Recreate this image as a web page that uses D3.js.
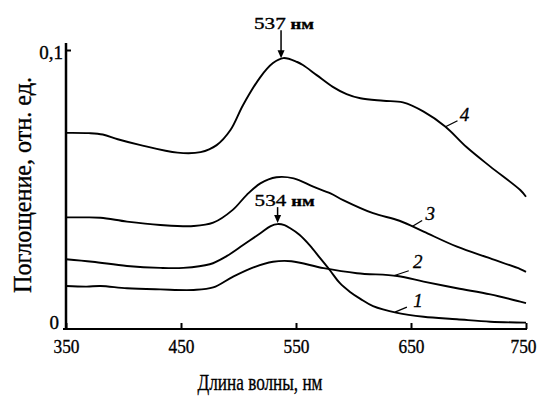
<!DOCTYPE html>
<html>
<head>
<meta charset="utf-8">
<script src="https://cdn.jsdelivr.net/npm/d3@7"></script>
<style>
  html, body { margin: 0; padding: 0; background: #fff; }
  svg { display: block; }
  svg text { font-family: "Liberation Serif", "DejaVu Serif", serif; fill: #000; stroke: #000; stroke-width: 0.35px; }
</style>
</head>
<body>
<div id="chart"></div>
<script>
// absorption spectra, wavelength (nm) vs absorbance (rel. units)
const xTicks = [350, 450, 550, 650, 750];
const yTicks = [0, 0.1];

const curve1 = [
  [350, 0.0250], [373, 0.0241], [403, 0.0226], [432, 0.0219], [452, 0.0219],
  [475, 0.0232], [490, 0.0262], [504, 0.0301], [519, 0.0343], [528, 0.0369],
  [534, 0.0376], [540, 0.0372], [545, 0.0361], [553, 0.0338], [562, 0.0300],
  [571, 0.0254], [580, 0.0208], [588, 0.0165], [597, 0.0133], [606, 0.0108],
  [617, 0.0082], [638, 0.0058], [661, 0.0044], [690, 0.0035], [719, 0.0026],
  [750, 0.0023]
];
const curve2 = [
  [350, 0.0154], [368, 0.0152], [380, 0.0154], [403, 0.0146], [432, 0.0142],
  [461, 0.0140], [478, 0.0149], [495, 0.0187], [513, 0.0221], [530, 0.0241],
  [546, 0.0243], [574, 0.0218], [603, 0.0200], [638, 0.0190], [661, 0.0170],
  [690, 0.0146], [719, 0.0124], [745, 0.0098], [750, 0.0093]
];
const curve3 = [
  [350, 0.0400], [362, 0.0400], [380, 0.0399], [403, 0.0385], [432, 0.0373],
  [461, 0.0369], [478, 0.0381], [495, 0.0427], [507, 0.0480], [519, 0.0522],
  [533, 0.0544], [548, 0.0540], [565, 0.0510], [580, 0.0486], [591, 0.0462],
  [617, 0.0415], [640, 0.0388], [661, 0.0349], [690, 0.0295], [719, 0.0253],
  [745, 0.0215], [750, 0.0205]
];
const curve4 = [
  [350, 0.0703], [370, 0.0702], [382, 0.0697], [395, 0.0680], [414, 0.0660],
  [447, 0.0632], [467, 0.0634], [481, 0.0659], [493, 0.0713], [504, 0.0803],
  [519, 0.0903], [530, 0.0953], [539, 0.0971], [551, 0.0957], [556, 0.0946],
  [568, 0.0910], [582, 0.0868], [594, 0.0842], [606, 0.0827], [626, 0.0818],
  [643, 0.0812], [661, 0.0779], [680, 0.0725], [698, 0.0653], [719, 0.0582],
  [745, 0.0498], [750, 0.0474]
];

const curveNames = ["1", "2", "3", "4"];
const labelAt = [636, 635, 651, 680];      // wavelength where each leader touches its curve
const peakNm = [534, 537];                 // arrowed maxima
const peakOf = [curve1, curve4];

const w = 541, h = 396;
const margin = {top: 50, right: 15, bottom: 67, left: 66};

const svg = d3.select("#chart").append("svg")
  .attr("width", w)
  .attr("height", h);

svg.append("rect").attr("width", w).attr("height", h).attr("fill", "#fff");

const x = d3.scaleLinear().domain([350, 750]).range([margin.left, w - margin.right]);
const y = d3.scaleLinear().domain([0, 0.1]).range([h - margin.bottom, margin.top]);

const ruFormat = d3.formatLocale({decimal: ",", thousands: " ", grouping: [3], currency: ["", ""]}).format(".1~f");

// x axis
const xAxis = svg.append("g")
  .attr("transform", "translate(0," + y(0) + ")")
  .call(d3.axisBottom(x).tickValues(xTicks).tickSizeInner(-6).tickSizeOuter(0).tickFormat(d3.format("d")));
xAxis.attr("font-family", null).attr("font-size", null);
xAxis.select(".domain").attr("stroke", "#000").attr("stroke-width", 2).attr("d", "M" + (x(350) - 3) + ",0H" + (x(750) + 1));
xAxis.selectAll(".tick line").attr("stroke", "#000").attr("stroke-width", 2);
xAxis.selectAll(".tick text")
  .attr("x", d => d === 750 ? -3 : 0)
  .attr("y", 24).attr("dy", null)
  .attr("textLength", 26)
  .attr("lengthAdjust", "spacingAndGlyphs")
  .attr("font-size", 19);

// y axis
const yAxis = svg.append("g")
  .attr("transform", "translate(" + x(350) + ",0)")
  .call(d3.axisLeft(y).tickValues(yTicks).tickSizeInner(-5).tickSizeOuter(0).tickFormat(ruFormat));
yAxis.attr("font-family", null).attr("font-size", null);
yAxis.select(".domain").attr("stroke", "#000").attr("stroke-width", 2.5).attr("d", "M0," + (y(0) + 1) + "V" + (y(0.1) - 7));
yAxis.selectAll(".tick line").attr("stroke", "#000").attr("stroke-width", 2);
yAxis.selectAll(".tick text")
  .attr("x", d => d === 0 ? -7 : -3)
  .attr("y", d => d === 0 ? -1 : 8)
  .attr("dy", null)
  .attr("font-size", 19);
yAxis.selectAll(".tick").filter(d => d === 0).select("line").remove();

// titles
svg.append("text")
  .attr("x", 260)
  .attr("y", 390)
  .attr("text-anchor", "middle")
  .attr("textLength", 125)
  .attr("lengthAdjust", "spacingAndGlyphs")
  .attr("font-size", 23)
  .text("Длина волны, нм");

svg.append("text")
  .attr("transform", "translate(31,185) rotate(-90)")
  .attr("text-anchor", "middle")
  .attr("textLength", 216)
  .attr("lengthAdjust", "spacingAndGlyphs")
  .attr("font-size", 25)
  .text("Поглощение, отн. ед.");

// curves
const line = d3.line()
  .x(d => x(d[0]))
  .y(d => y(d[1]))
  .curve(d3.curveCatmullRom.alpha(0.5));

const curves = [curve1, curve2, curve3, curve4];
svg.selectAll(".spectrum")
  .data(curves)
  .enter().append("path")
  .attr("class", "spectrum")
  .attr("fill", "none")
  .attr("stroke", "#000")
  .attr("stroke-width", 1.9)
  .attr("stroke-linejoin", "round")
  .attr("d", line);

// value of a curve at a wavelength (linear between read points)
function valueAt(curve, nm) {
  const i = d3.bisector(d => d[0]).left(curve, nm);
  if (i <= 0) return curve[0][1];
  const a = curve[i - 1], b = curve[i];
  return a[1] + (b[1] - a[1]) * (nm - a[0]) / (b[0] - a[0]);
}

// numbered leaders
const leadDx = [12, 15, 10, 12], leadDy = [-5, -5, -6, -6];
const textDx = [23, 24, 18, 19], textDy = [-5, -8, -6, -6];
curves.forEach((c, i) => {
  const px = x(labelAt[i]), py = y(valueAt(c, labelAt[i]));
  svg.append("line")
    .attr("x1", px).attr("y1", py)
    .attr("x2", px + leadDx[i]).attr("y2", py + leadDy[i])
    .attr("stroke", "#000").attr("stroke-width", 1.3);
  svg.append("text")
    .attr("x", px + textDx[i])
    .attr("y", py + textDy[i])
    .attr("text-anchor", "middle")
    .attr("font-size", 19)
    .attr("font-style", "italic")
    .text(curveNames[i]);
});

// peak arrows
const arrowLen = [16, 28];
const textLeft = [23, 27];
peakNm.forEach((nm, i) => {
  const px = x(nm), tip = y(valueAt(peakOf[i], nm)) - 1;
  const top = tip - arrowLen[i];
  svg.append("line")
    .attr("x1", px).attr("y1", top)
    .attr("x2", px).attr("y2", tip - 6)
    .attr("stroke", "#000").attr("stroke-width", 1.5);
  svg.append("path")
    .attr("d", "M" + (px - 3.5) + "," + (tip - 8) + "L" + (px + 3.5) + "," + (tip - 8) + "L" + px + "," + tip + "Z")
    .attr("fill", "#000");
  const t = svg.append("text")
    .attr("x", px - textLeft[i])
    .attr("y", top - 1)
    .attr("textLength", 60)
    .attr("lengthAdjust", "spacingAndGlyphs")
    .attr("font-size", 17);
  t.append("tspan").text(nm);
  t.append("tspan").attr("dx", 4).attr("font-size", 15).attr("font-weight", "bold").text("нм");
});
</script>
</body>
</html>
